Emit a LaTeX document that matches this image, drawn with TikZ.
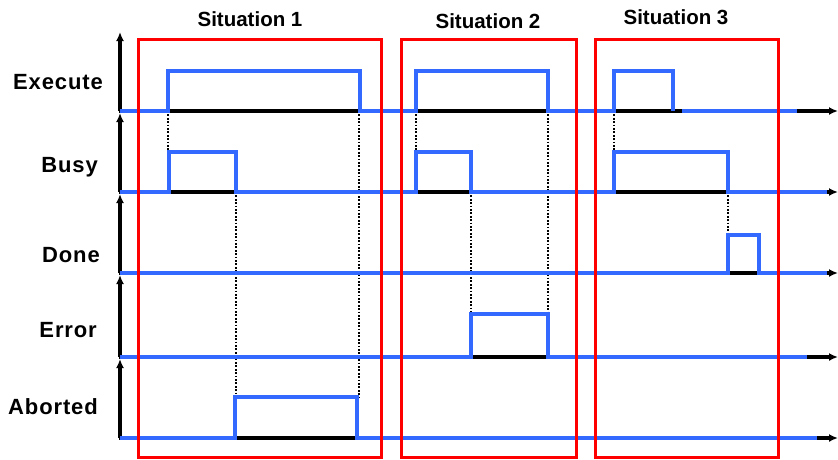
\documentclass[tikz,border=0pt]{standalone}
\usepackage{fontspec}
\setmainfont{Liberation Sans}
\usetikzlibrary{arrows.meta}
\definecolor{sigblue}{RGB}{51,105,255}
\definecolor{boxred}{RGB}{255,0,0}
\begin{document}
\begin{tikzpicture}[x=1pt,y=-1pt,
  axis/.style={black, line width=3.3pt, -{Latex[length=9pt,width=8pt]}},
  sig/.style={sigblue, line width=3.6pt, line join=miter},
  sitbox/.style={boxred, line width=3pt},
  guide/.style={black, line width=2.4pt, dash pattern=on 1.8pt off 1.6pt},
  lab/.style={font=\bfseries\fontsize{22}{26}\selectfont\addfontfeatures{LetterSpace=4}, anchor=east, inner sep=0pt},
  title/.style={font=\bfseries\fontsize{20.5}{24}\selectfont, inner sep=0pt}]
\useasboundingbox (0,0) rectangle (838,459);
% baselines
\def\yE{111}\def\yB{192}\def\yD{273}\def\yR{357}\def\yA{438}
% vertical axes
\draw[axis] (120,\yE) -- (120,32);
\draw[axis] (120,\yB) -- (120,113);
\draw[axis] (120,\yD) -- (120,194);
\draw[axis] (120,\yR) -- (120,275);
\draw[axis] (120,\yA) -- (120,359);
% horizontal axes
\draw[axis] (119,\yE) -- (838,\yE);
\draw[axis] (119,\yB) -- (838,\yB);
\draw[axis] (119,\yD) -- (838,\yD);
\draw[axis] (119,\yR) -- (838,\yR);
\draw[axis] (119,\yA) -- (838,\yA);
% dotted guides
\draw[guide] (168,\yE) -- (168,\yB);
\draw[guide] (359,\yE) -- (359,397);
\draw[guide] (236,\yB) -- (236,397);
\draw[guide] (416,\yE) -- (416,\yB);
\draw[guide] (471,\yB) -- (471,314);
\draw[guide] (548,\yE) -- (548,314);
\draw[guide] (614,\yE) -- (614,\yB);
\draw[guide] (728,\yB) -- (728,\yD);
% signals
\draw[sig] (120,\yE) -- (168,\yE) -- (168,71) -- (360,71) -- (360,\yE) -- (416,\yE) -- (416,71) -- (548,71) -- (548,\yE) -- (614,\yE) -- (614,71) -- (673,71) -- (673,\yE);
\draw[sig] (682,\yE) -- (797,\yE);
\draw[sig] (120,\yB) -- (169,\yB) -- (169,152) -- (236,152) -- (236,\yB) -- (416,\yB) -- (416,152) -- (471,152) -- (471,\yB) -- (614,\yB) -- (614,152) -- (728,152) -- (728,\yB) -- (827,\yB);
\draw[sig] (120,\yD) -- (728,\yD) -- (728,235) -- (759,235) -- (759,\yD) -- (827,\yD);
\draw[sig] (120,\yR) -- (471,\yR) -- (471,314) -- (548,314) -- (548,\yR) -- (807,\yR);
\draw[sig] (120,\yA) -- (235,\yA) -- (235,397) -- (357,397) -- (357,\yA) -- (817,\yA);
% situation boxes
\draw[sitbox] (138,39) rectangle (381,457);
\draw[sitbox] (401,39) rectangle (576,457);
\draw[sitbox] (595,39) rectangle (778,457);
% titles
\node[title] (t1) at (250,19) {Situation 1};
\node[title] (t2) at (488,21) {Situation 2};
\node[title] (t3) at (676,17) {Situation 3};
% labels
\node[lab] (lE) at (103,82) {Execute};
\node[lab] (lB) at (98,167) {Busy};
\node[lab] (lD) at (100,255) {Done};
\node[lab] (lR) at (97,330) {Error};
\node[lab] (lA) at (98,407) {Aborted};
\end{tikzpicture}
\end{document}
